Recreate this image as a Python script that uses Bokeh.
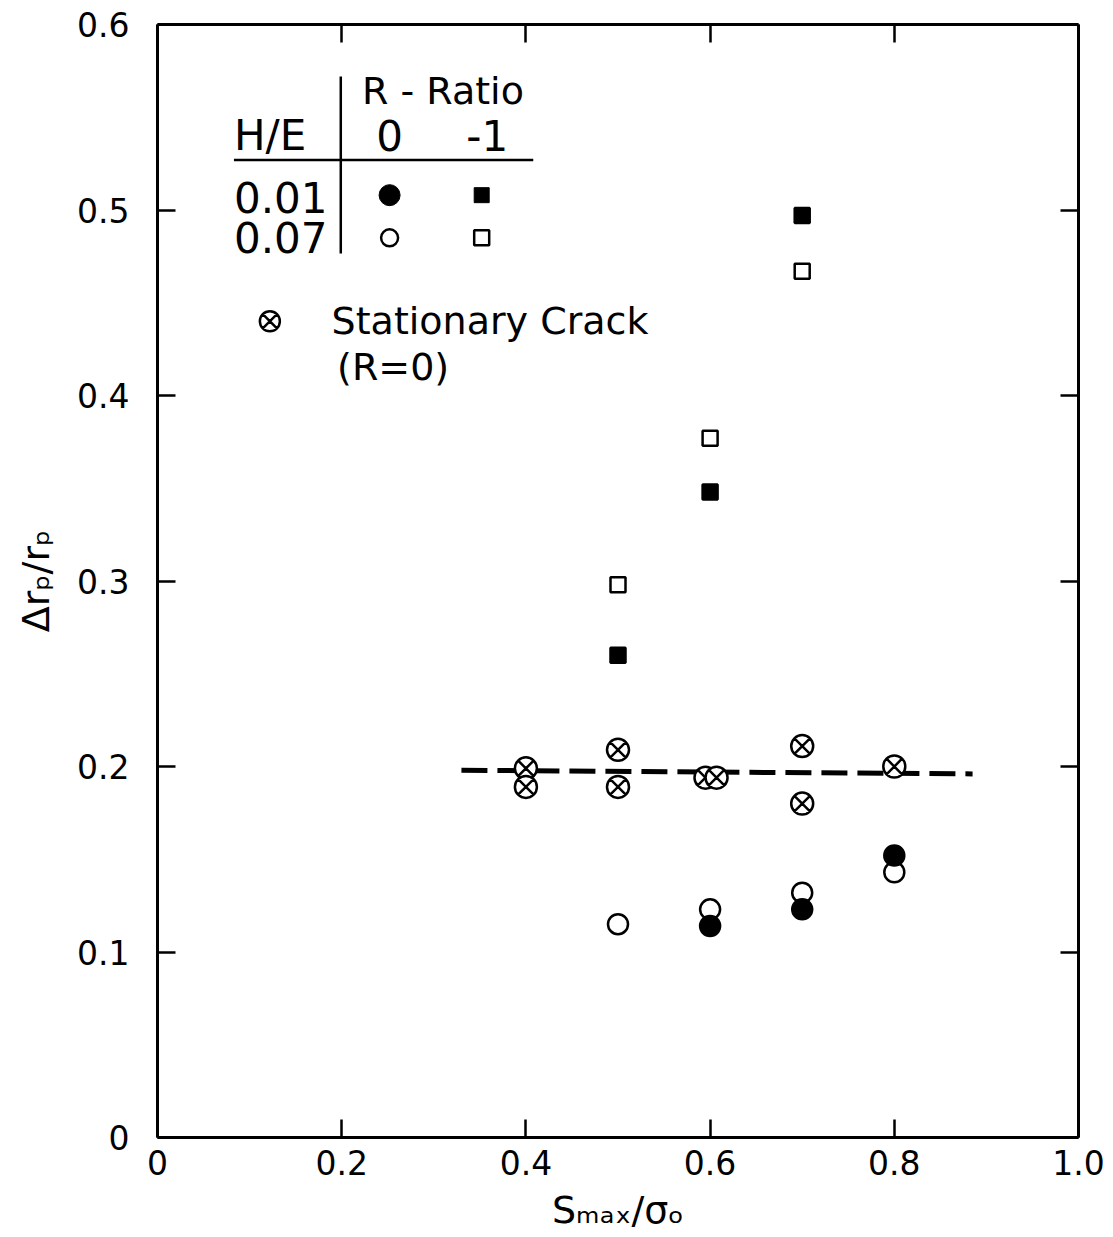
from bokeh.plotting import figure
from bokeh.models import LinearAxis, Range1d, FixedTicker
from bokeh.core.properties import value
from bokeh.embed import file_html
from bokeh.resources import INLINE

FONT = "DejaVu Sans"

# --- data ---
# H/E = 0.01, R = -1 (filled squares)
sq_filled_x = [0.5, 0.6, 0.7]
sq_filled_y = [0.260, 0.348, 0.497]
# H/E = 0.07, R = -1 (open squares)
sq_open_x = [0.5, 0.6, 0.7]
sq_open_y = [0.298, 0.377, 0.467]
# H/E = 0.01, R = 0 (filled circles)
ci_filled_x = [0.6, 0.7, 0.8]
ci_filled_y = [0.114, 0.123, 0.152]
# H/E = 0.07, R = 0 (open circles)
ci_open_x = [0.5, 0.6, 0.7, 0.8]
ci_open_y = [0.115, 0.123, 0.132, 0.143]
# Stationary crack (R = 0)
stat_x = [0.4, 0.4, 0.5, 0.5, 0.595, 0.607, 0.7, 0.7, 0.8]
stat_y = [0.199, 0.189, 0.209, 0.189, 0.194, 0.194, 0.211, 0.180, 0.200]
# dashed mean line
dash_x = [0.33, 0.885]
dash_y = [0.198, 0.196]

x_ticks = [0, 0.2, 0.4, 0.6, 0.8, 1.0]
x_tick_labels = ["0", "0.2", "0.4", "0.6", "0.8", "1.0"]
y_ticks = [0, 0.1, 0.2, 0.3, 0.4, 0.5, 0.6]
y_tick_labels = ["0", "0.1", "0.2", "0.3", "0.4", "0.5", "0.6"]

p = figure(width=1113, height=1237, output_backend="svg", toolbar_location=None,
           x_range=Range1d(0, 1.0), y_range=Range1d(0, 0.6),
           min_border_left=157, min_border_right=35, min_border_top=24, min_border_bottom=100)
p.grid.visible = False
p.outline_line_color = None
p.background_fill_color = "white"
p.border_fill_color = "white"

def style_axis(ax, ticks, labels=None, show_labels=True):
    ax.ticker = FixedTicker(ticks=ticks)
    ax.axis_line_width = 3
    ax.axis_line_color = "black"
    ax.major_tick_in = 18
    ax.major_tick_out = 0
    ax.major_tick_line_width = 2.5
    ax.minor_tick_line_color = None
    if show_labels:
        ax.major_label_overrides = {t: l for t, l in zip(ticks, labels)}
        ax.major_label_text_font = FONT
        ax.major_label_text_font_size = "33px"
        ax.major_label_text_color = "black"
    else:
        ax.major_label_overrides = {t: "" for t in ticks}
        ax.major_label_text_font_size = "10px"
        ax.major_label_standoff = 0

style_axis(p.xaxis[0], x_ticks, x_tick_labels)
style_axis(p.yaxis[0], y_ticks, y_tick_labels)
p.xaxis[0].major_label_standoff = 12
p.yaxis[0].major_label_standoff = 28
p.xaxis[0].axis_label = "Sₘₐₓ/σₒ"
p.yaxis[0].axis_label = "Δrₚ/rₚ"
for ax in (p.xaxis[0], p.yaxis[0]):
    ax.axis_label_text_font = FONT
    ax.axis_label_text_font_size = "38px"
    ax.axis_label_text_font_style = "normal"
    ax.axis_label_text_color = "black"
p.xaxis[0].axis_label_standoff = 10
p.yaxis[0].axis_label_standoff = 16

top = LinearAxis()
style_axis(top, x_ticks, show_labels=False)
p.add_layout(top, "above")
right = LinearAxis()
style_axis(right, y_ticks, show_labels=False)
p.add_layout(right, "right")

# --- data marks ---
p.line(dash_x, dash_y, line_color="black", line_width=5, line_dash="26 10")
p.scatter(stat_x, stat_y, marker="circle_x", size=22, fill_color="white",
          line_color="black", line_width=2.5)
p.scatter(ci_open_x, ci_open_y, marker="circle", size=20, fill_color="white",
          line_color="black", line_width=2.5)
p.scatter(ci_filled_x, ci_filled_y, marker="circle", size=20, fill_color="black",
          line_color="black", line_width=2.5)
p.scatter(sq_open_x, sq_open_y, marker="square", size=15, fill_color="white",
          line_color="black", line_width=2.5)
p.scatter(sq_filled_x, sq_filled_y, marker="square", size=15, fill_color="black",
          line_color="black", line_width=2.5)

# --- legend table ---
p.segment(x0=[0.199, 0.083], y0=[0.572, 0.527], x1=[0.199, 0.408], y1=[0.4765, 0.527],
          line_color="black", line_width=2.5)
def txt(x, y, s, size="36px", align="left"):
    p.text(x=[x], y=[y], text=[s], text_font=value(FONT), text_font_size=size,
           text_align=align, text_baseline="middle", text_color="black")

txt(0.31, 0.564, "R - Ratio", "38px", "center")
txt(0.083, 0.540, "H/E", "42px")
txt(0.252, 0.540, "0", "42px", "center")
txt(0.358, 0.540, "-1", "42px", "center")
txt(0.083, 0.507, "0.01", "42px")
txt(0.083, 0.485, "0.07", "42px")
p.scatter([0.252], [0.508], marker="circle", size=21, fill_color="black", line_color="black")
p.scatter([0.352], [0.508], marker="square", size=15, fill_color="black", line_color="black")
p.scatter([0.252], [0.485], marker="circle", size=17, fill_color="white", line_color="black", line_width=2.5)
p.scatter([0.352], [0.485], marker="square", size=15, fill_color="white", line_color="black", line_width=2.5)
p.scatter([0.122], [0.44], marker="circle_x", size=20, fill_color="white", line_color="black", line_width=2.5)
txt(0.189, 0.44, "Stationary Crack", "38px")
txt(0.195, 0.4155, "(R=0)", "38px")

open("out.html", "w").write(file_html(p, INLINE))
